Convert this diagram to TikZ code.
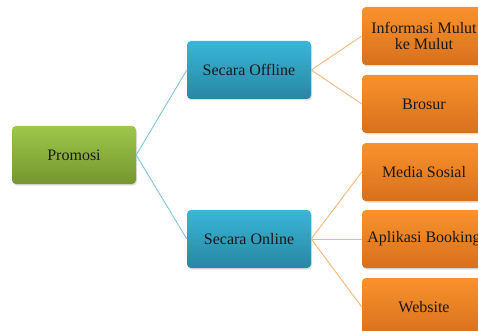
\documentclass[tikz,border=0pt]{standalone}
\usepackage{fontspec}
\setmainfont{Liberation Serif}
\usetikzlibrary{shadows}
\definecolor{gtop}{HTML}{9DC84A}
\definecolor{gbot}{HTML}{76952F}
\definecolor{btop}{HTML}{3AB6D8}
\definecolor{bbot}{HTML}{2886A3}
\definecolor{otop}{HTML}{F9922C}
\definecolor{obot}{HTML}{D7701C}
\definecolor{bline}{HTML}{7FC7DB}
\definecolor{oline}{HTML}{F8B67C}
\begin{document}
\begin{tikzpicture}[x=1pt,y=-1pt,
  box/.style={rounded corners=4pt, minimum width=124pt, minimum height=58pt,
    inner sep=0pt, align=center, font=\fontsize{16}{16}\selectfont, text=black!90,
    drop shadow={shadow xshift=1pt, shadow yshift=-1.5pt, opacity=0.25}},
  gbox/.style={box, top color=gtop, bottom color=gbot},
  bbox/.style={box, top color=btop, bottom color=bbot},
  obox/.style={box, top color=otop, bottom color=obot},
  bconn/.style={draw=bline, line width=0.9pt},
  oconn/.style={draw=oline, line width=0.9pt}]
\useasboundingbox (0,0) rectangle (478,331);
\clip (0,0) rectangle (478,331);
\fill[white] (0,0) rectangle (478,331);
\node[gbox] (p) at (74,155) {Promosi};
\node[bbox] (off) at (249,70) {Secara Offline};
\node[bbox] (on) at (249,239) {Secara Online};
\node[obox] (o1) at (424,36) {Informasi Mulut\\ke Mulut};
\node[obox] (o2) at (424,104) {Brosur};
\node[obox] (o3) at (424,172) {Media Sosial};
\node[obox] (o4) at (424,239) {Aplikasi Booking};
\node[obox] (o5) at (424,307) {Website};
\draw[bconn] (p.east) -- (off.west);
\draw[bconn] (p.east) -- (on.west);
\draw[oconn] (off.east) -- (o1.west);
\draw[oconn] (off.east) -- (o2.west);
\draw[oconn] (on.east) -- (o3.west);
\draw[oconn] (on.east) -- (o4.west);
\draw[oconn] (on.east) -- (o5.west);
\end{tikzpicture}
\end{document}
